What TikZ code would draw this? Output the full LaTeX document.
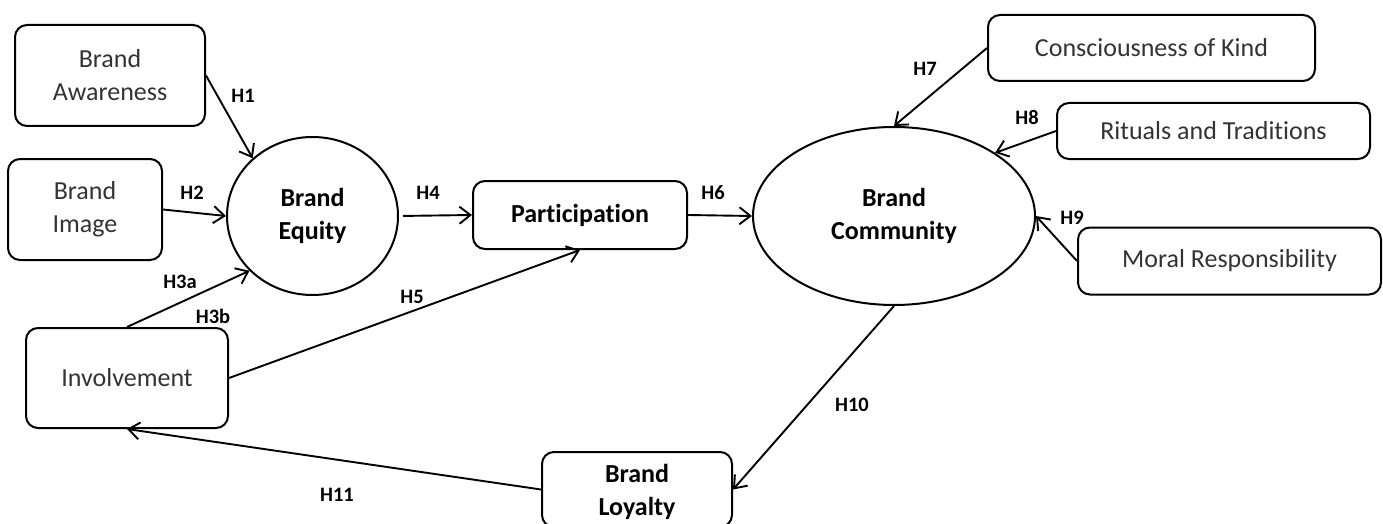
\documentclass[tikz,border=0pt]{standalone}
\usepackage{fontspec}
\setmainfont{Carlito}[Ligatures={NoCommon,NoContextual}]
\usetikzlibrary{arrows.meta,shapes.geometric}
\begin{document}
\begin{tikzpicture}[x=1pt,y=-1pt,
  box/.style={draw, line width=2pt, rounded corners=12pt, inner sep=0pt, align=center,
    font=\fontsize{26}{33}\selectfont, text=black!80},
  bbox/.style={box, font=\fontsize{26}{33}\selectfont\bfseries, text=black},
  oval/.style={draw, ellipse, line width=2pt, inner sep=0pt, align=center,
    font=\fontsize{26}{33}\selectfont\bfseries},
  conn/.style={line width=1.9pt, -{Straight Barb[length=11pt,width=17pt]}},
  hyp/.style={font=\fontsize{20.5}{24}\selectfont\bfseries, inner sep=0pt}
]
\useasboundingbox (0,0) rectangle (1383,524);
\clip (0,0) rectangle (1383,524);

% nodes
\node[box, minimum width=190pt, minimum height=101pt] (aw) at (110,75.5) {Brand\\Awareness};
\node[box, minimum width=154pt, minimum height=101pt] (im) at (85,209.5) {Brand\\Image};
\node[box, minimum width=202pt, minimum height=100pt] (inv) at (127,378) {Involvement};
\node[bbox, minimum width=214pt, minimum height=68pt] (par) at (580,215) {Participation};
\node[bbox, minimum width=190pt, minimum height=75pt, text depth=0pt] (loy) at (637,489.5) {Brand\\Loyalty};
\node[box, minimum width=327pt, minimum height=66pt] (con) at (1151.5,48) {Consciousness of Kind};
\node[box, minimum width=313pt, minimum height=56pt] (rit) at (1213.5,131) {Rituals and Traditions};
\node[box, minimum width=303pt, minimum height=67pt] (mor) at (1229.5,261) {Moral Responsibility};
\node[oval, minimum width=171pt, minimum height=158pt] (eq) at (312.5,216) {Brand\\Equity};
\node[oval, minimum width=282pt, minimum height=178pt] (com) at (894,216) {Brand\\Community};

% connectors
\draw[conn] (aw.east) -- (eq.136);
\draw[conn] (im.east) -- (eq.west);
\draw[conn] (inv.north) -- (eq.221);
\draw[conn, shorten <=4pt] (eq.east) -- (par.west);
\draw[conn] (inv.east) -- (par.south);
\draw[conn] (par.east) -- (com.west);
\draw[conn] (con.west) -- (com.north);
\draw[conn] (rit.west) -- (com.32);
\draw[conn] (mor.west) -- (com.east);
\draw[conn] (com.south) -- (loy.east);
\draw[conn] (loy.west) -- (inv.south);

% labels
\node[hyp] (h1) at (243,96) {H1};
\node[hyp] (h2) at (192,193) {H2};
\node[hyp] (h3a) at (180,282) {H3a};
\node[hyp] (h3b) at (213,316) {H3b};
\node[hyp] (h4) at (428,193) {H4};
\node[hyp] (h5) at (412,297) {H5};
\node[hyp] (h6) at (713,193) {H6};
\node[hyp] (h7) at (925,69) {H7};
\node[hyp] (h8) at (1027,117) {H8};
\node[hyp] (h9) at (1072,218) {H9};
\node[hyp] (h10) at (852,405) {H10};
\node[hyp] (h11) at (337,495) {H11};
\end{tikzpicture}
\end{document}
